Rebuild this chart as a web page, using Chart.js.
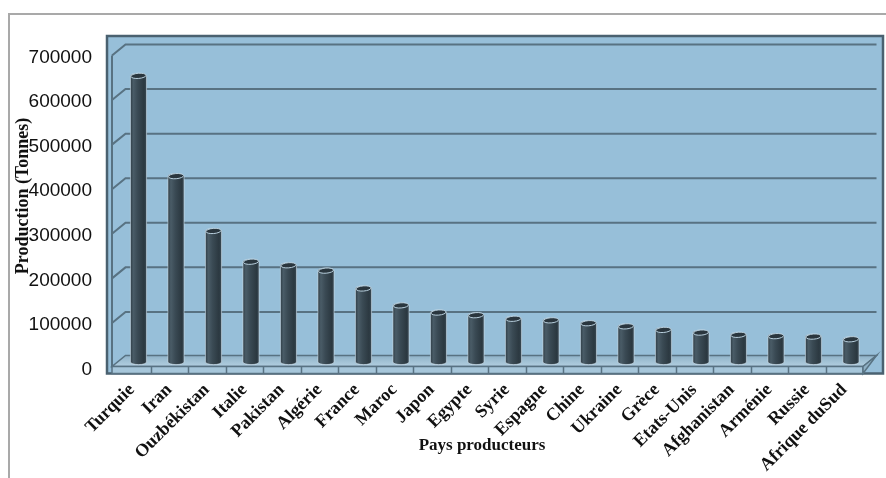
<!DOCTYPE html>
<html>
<head>
<meta charset="utf-8">
<script src="https://cdn.jsdelivr.net/npm/chart.js@4.4.1/dist/chart.umd.min.js"></script>
<style>
  html, body { margin: 0; padding: 0; background: #fff; overflow: hidden; }
</style>
</head>
<body>
<canvas id="prod" width="886" height="478"></canvas>
<script>
// ── DATA ─────────────────────────────────────────────────────────────
const pays = [
  "Turquie", "Iran", "Ouzbékistan", "Italie", "Pakistan", "Algérie", "France",
  "Maroc", "Japon", "Egypte", "Syrie", "Espagne", "Chine", "Ukraine", "Grèce",
  "Etats-Unis", "Afghanistan", "Arménie", "Russie", "Afrique duSud"
]
const production = [
  642000, 417000, 294000, 225000, 217000, 205000, 165000, 127000, 111000, 105000,
  97000, 93500, 87000, 80000, 72000, 66000, 61000, 58000, 57000, 51000
]
const yTicks = [0, 100000, 200000, 300000, 400000, 500000, 600000, 700000]

const titreY = "Production (Tonnes)"
const titreX = "Pays producteurs"

// ── 3D LOOK ──────────────────────────────────────────────────────────
// back wall sits dx right / dy up from the front plane, columns half way
const depth = { dx: 13.5, dy: 11 }
const serif = '"Liberation Serif", "Times New Roman", serif'
const tickFont = '"Liberation Sans", Arial, sans-serif'

function cylinder(ctx, cx, top, base, w) {
  const rx = w / 2, ry = Math.max(2, rx * 0.32)
  const l = cx - rx, r = cx + rx
  const g = ctx.createLinearGradient(l, 0, r, 0)
  g.addColorStop(0, "#2f3d46")
  g.addColorStop(0.18, "#4a5c67")
  g.addColorStop(0.45, "#3a4a54")
  g.addColorStop(0.85, "#2b3840")
  g.addColorStop(1, "#3c4d58")
  ctx.beginPath()
  ctx.moveTo(l, top)
  ctx.lineTo(l, base)
  ctx.ellipse(cx, base, rx, ry, 0, Math.PI, 0, true)
  ctx.lineTo(r, top)
  ctx.ellipse(cx, top, rx, ry, 0, 0, Math.PI, true)
  ctx.closePath()
  ctx.fillStyle = g
  ctx.fill()
  ctx.strokeStyle = "rgba(220,235,245,0.55)"
  ctx.lineWidth = 1
  ctx.stroke()
  // top cap
  ctx.beginPath()
  ctx.ellipse(cx, top, rx - 0.5, ry, -0.08, 0, Math.PI * 2)
  ctx.fillStyle = "#2a363e"
  ctx.fill()
  ctx.strokeStyle = "#b8cfdd"
  ctx.lineWidth = 1
  ctx.stroke()
}

const box3d = {
  id: "box3d",
  beforeDraw(chart) {
    const { ctx, chartArea: a, scales: { y } } = chart
    const { dx, dy } = depth
    ctx.save()

    // page frame
    ctx.strokeStyle = "#a9a9a9"
    ctx.lineWidth = 2
    ctx.beginPath()
    ctx.moveTo(9, chart.height)
    ctx.lineTo(9, 14)
    ctx.lineTo(chart.width, 14)
    ctx.stroke()

    // plot panel
    const px = a.left - 6, py = a.top - 19.5
    const pw = a.right + 20 - px, ph = a.bottom + 6 - py
    ctx.fillStyle = "#97bfd9"
    ctx.fillRect(px, py, pw, ph)
    ctx.strokeStyle = "#4a6170"
    ctx.lineWidth = 2.5
    ctx.strokeRect(px, py, pw, ph)

    // left wall edge + back wall grid
    ctx.strokeStyle = "#587282"
    ctx.lineWidth = 2
    ctx.beginPath()
    ctx.moveTo(a.left - 1, a.top)
    ctx.lineTo(a.left - 1, a.bottom)
    ctx.stroke()
    y.ticks.forEach(t => {
      if (t.value === 0) return
      const gy = y.getPixelForValue(t.value)
      ctx.beginPath()
      ctx.moveTo(a.left - 1, gy)
      ctx.lineTo(a.left - 1 + dx, gy - dy)
      ctx.lineTo(a.right + dx, gy - dy)
      ctx.stroke()
    })

    // floor
    const fy = a.bottom - 1
    ctx.beginPath()
    ctx.moveTo(a.left - 1, fy)
    ctx.lineTo(a.right, fy)
    ctx.lineTo(a.right + dx, fy - dy)
    ctx.lineTo(a.left - 1 + dx, fy - dy)
    ctx.closePath()
    const fg = ctx.createLinearGradient(0, fy - dy, 0, fy)
    fg.addColorStop(0, "#8fb2c8")
    fg.addColorStop(1, "#b2cfe0")
    ctx.fillStyle = fg
    ctx.fill()
    ctx.strokeStyle = "#587282"
    ctx.lineWidth = 1.5
    ctx.stroke()

    // floor front edge, one cell per category
    const band = 7
    ctx.fillStyle = "#a6c6da"
    ctx.fillRect(a.left - 1, fy, a.right - a.left + 1, band)
    ctx.strokeRect(a.left - 1, fy, a.right - a.left + 1, band)
    const step = (a.right - a.left) / pays.length
    ctx.beginPath()
    for (let i = 1; i < pays.length; i++) {
      const cx = Math.round(a.left + i * step) + 0.5
      ctx.moveTo(cx, fy)
      ctx.lineTo(cx, fy + band)
    }
    ctx.stroke()
    // floor right side
    ctx.beginPath()
    ctx.moveTo(a.right, fy)
    ctx.lineTo(a.right + dx, fy - dy)
    ctx.lineTo(a.right, fy + band)
    ctx.closePath()
    ctx.fillStyle = "#8fb0c4"
    ctx.fill()
    ctx.stroke()
    ctx.restore()
  },
  afterDatasetsDraw(chart) {
    const { ctx } = chart
    const { dx, dy } = depth
    ctx.save()
    chart.getDatasetMeta(0).data.forEach(bar => {
      const p = bar.getProps(["x", "y", "base", "width"], true)
      cylinder(ctx, p.x + dx / 2, p.y - dy / 2, p.base - dy / 2, p.width)
    })
    ctx.restore()
  },
  afterDraw(chart) {
    const { ctx } = chart
    ctx.save()
    ctx.fillStyle = "#111"
    ctx.textAlign = "center"
    ctx.textBaseline = "middle"
    ctx.font = "bold 17px " + serif
    ctx.fillText(titreX, 482, 446)
    ctx.translate(23, 196)
    ctx.rotate(-Math.PI / 2)
    ctx.font = "bold 18px " + serif
    ctx.fillText(titreY, 0, 0)
    ctx.restore()
  }
}

new Chart(document.getElementById("prod"), {
  type: "bar",
  data: {
    labels: pays,
    datasets: [{
      data: production,
      backgroundColor: "rgba(0,0,0,0)",
      borderWidth: 0,
      categoryPercentage: 1,
      barPercentage: 0.43
    }]
  },
  options: {
    responsive: false,
    animation: false,
    events: [],
    layout: { padding: { top: 55.5, right: 23, left: 0, bottom: 0 } },
    plugins: { legend: { display: false }, tooltip: { enabled: false } },
    scales: {
      x: {
        grid: { display: false, drawTicks: false },
        border: { display: false },
        ticks: {
          autoSkip: false,
          minRotation: 45,
          maxRotation: 45,
          padding: 12,
          color: "#111",
          font: { family: serif, size: 18, weight: "bold" }
        },
        afterFit: s => { s.height = 110.5 }
      },
      y: {
        min: 0,
        max: 700000,
        afterBuildTicks: s => { s.ticks = yTicks.map(v => ({ value: v })) },
        grid: { display: false, drawTicks: false },
        border: { display: false },
        ticks: {
          padding: 21,
          labelOffset: 2,
          color: "#111",
          font: { family: tickFont, size: 19 },
          callback: v => String(v)
        },
        afterFit: s => { s.width = 113 }
      }
    }
  },
  plugins: [box3d]
})
</script>
</body>
</html>
